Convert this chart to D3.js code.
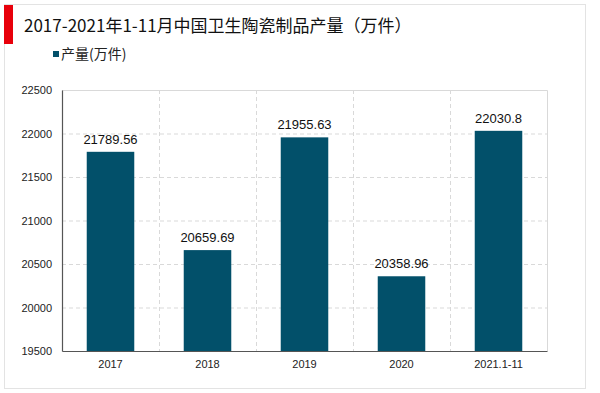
<!DOCTYPE html>
<html><head><meta charset="utf-8">
<script src="https://cdn.jsdelivr.net/npm/d3@7"></script>
<style>body{margin:0;background:#fff;}svg{display:block;font-family:"Liberation Sans",Arial,"Noto Sans CJK SC",sans-serif;}</style>
</head><body>
<svg id="c" width="600" height="393"></svg>
<script>
const categories = ["2017","2018","2019","2020","2021.1-11"];
const values = [21789.56, 20659.69, 21955.63, 20358.96, 22030.8];
const valueLabels = ["21789.56","20659.69","21955.63","20358.96","22030.8"];
const yTicks = [19500,20000,20500,21000,21500,22000,22500];
const title = "2017-2021年1-11月中国卫生陶瓷制品产量（万件）";
const seriesName = "产量(万件)";

const svg = d3.select("#c");
const cjk = '"Noto Sans CJK SC","Liberation Sans",sans-serif';
svg.append("rect").attr("x",4.5).attr("y",4.5).attr("width",581).attr("height",384)
  .attr("fill","#fff").attr("stroke","#e3e3e3");
svg.append("rect").attr("x",4).attr("y",5).attr("width",9).attr("height",39).attr("fill","#e8000b");
svg.append("text").attr("x",24).attr("y",32).attr("font-size",17).attr("fill","#111")
  .style("font-family",cjk).text(title);
svg.append("rect").attr("x",53).attr("y",51).attr("width",6).attr("height",6).attr("fill","#02506a");
svg.append("text").attr("x",61).attr("y",59).attr("font-size",14).attr("fill","#222")
  .style("font-family",cjk).text(seriesName);

const L=62,R=547,T=90,B=351;
const x = d3.scaleBand().domain(categories).range([L,R]).paddingInner(0).paddingOuter(0);
const y = d3.scaleLinear().domain([19500,22500]).range([B,T]);
const g = svg.append("g");
// plot frame (top, right)
g.append("path").attr("d",`M${L},${T+0.5}H${R+0.5}V${B}`).attr("fill","none").attr("stroke","#d9d9d9");
// horizontal grid
g.selectAll(".hg").data(yTicks.slice(1,-1)).join("line")
  .attr("x1",L).attr("x2",R).attr("y1",d=>y(d)+0.5).attr("y2",d=>y(d)+0.5)
  .attr("stroke","#d9d9d9").attr("stroke-dasharray","4,3");
// vertical grid
g.selectAll(".vg").data(categories.slice(1)).join("line")
  .attr("x1",d=>Math.round(x(d))+0.5).attr("x2",d=>Math.round(x(d))+0.5).attr("y1",T).attr("y2",B)
  .attr("stroke","#d9d9d9").attr("stroke-dasharray","4,3");
// bars
const bw = x.bandwidth()*0.49;
g.selectAll(".bar").data(values).join("rect")
  .attr("x",(d,i)=>x(categories[i])+(x.bandwidth()-bw)/2).attr("width",bw)
  .attr("y",d=>y(d)).attr("height",d=>B-y(d)).attr("fill","#02506a");
g.selectAll(".lbl").data(values).join("text")
  .attr("x",(d,i)=>x(categories[i])+x.bandwidth()/2).attr("y",d=>y(d)-8)
  .attr("text-anchor","middle").attr("font-size",13).attr("fill","#111")
  .text((d,i)=>valueLabels[i]);
// axes
const ya = svg.append("g").attr("transform",`translate(${L},0)`)
  .call(d3.axisLeft(y).tickValues(yTicks).tickSize(0).tickPadding(10).tickFormat(d3.format("d")));
ya.select(".domain").attr("stroke","#555").attr("stroke-width",1.2);
ya.selectAll("text").attr("font-size",11).attr("fill","#222").style("font-family","Liberation Sans,Arial,sans-serif");
const xa = svg.append("g").attr("transform",`translate(0,${B})`)
  .call(d3.axisBottom(x).tickSize(0).tickPadding(9));
xa.select(".domain").attr("stroke","#555").attr("stroke-width",1.2);
xa.selectAll("text").attr("font-size",11).attr("fill","#222").style("font-family","Liberation Sans,Arial,sans-serif");
</script>
</body></html>
